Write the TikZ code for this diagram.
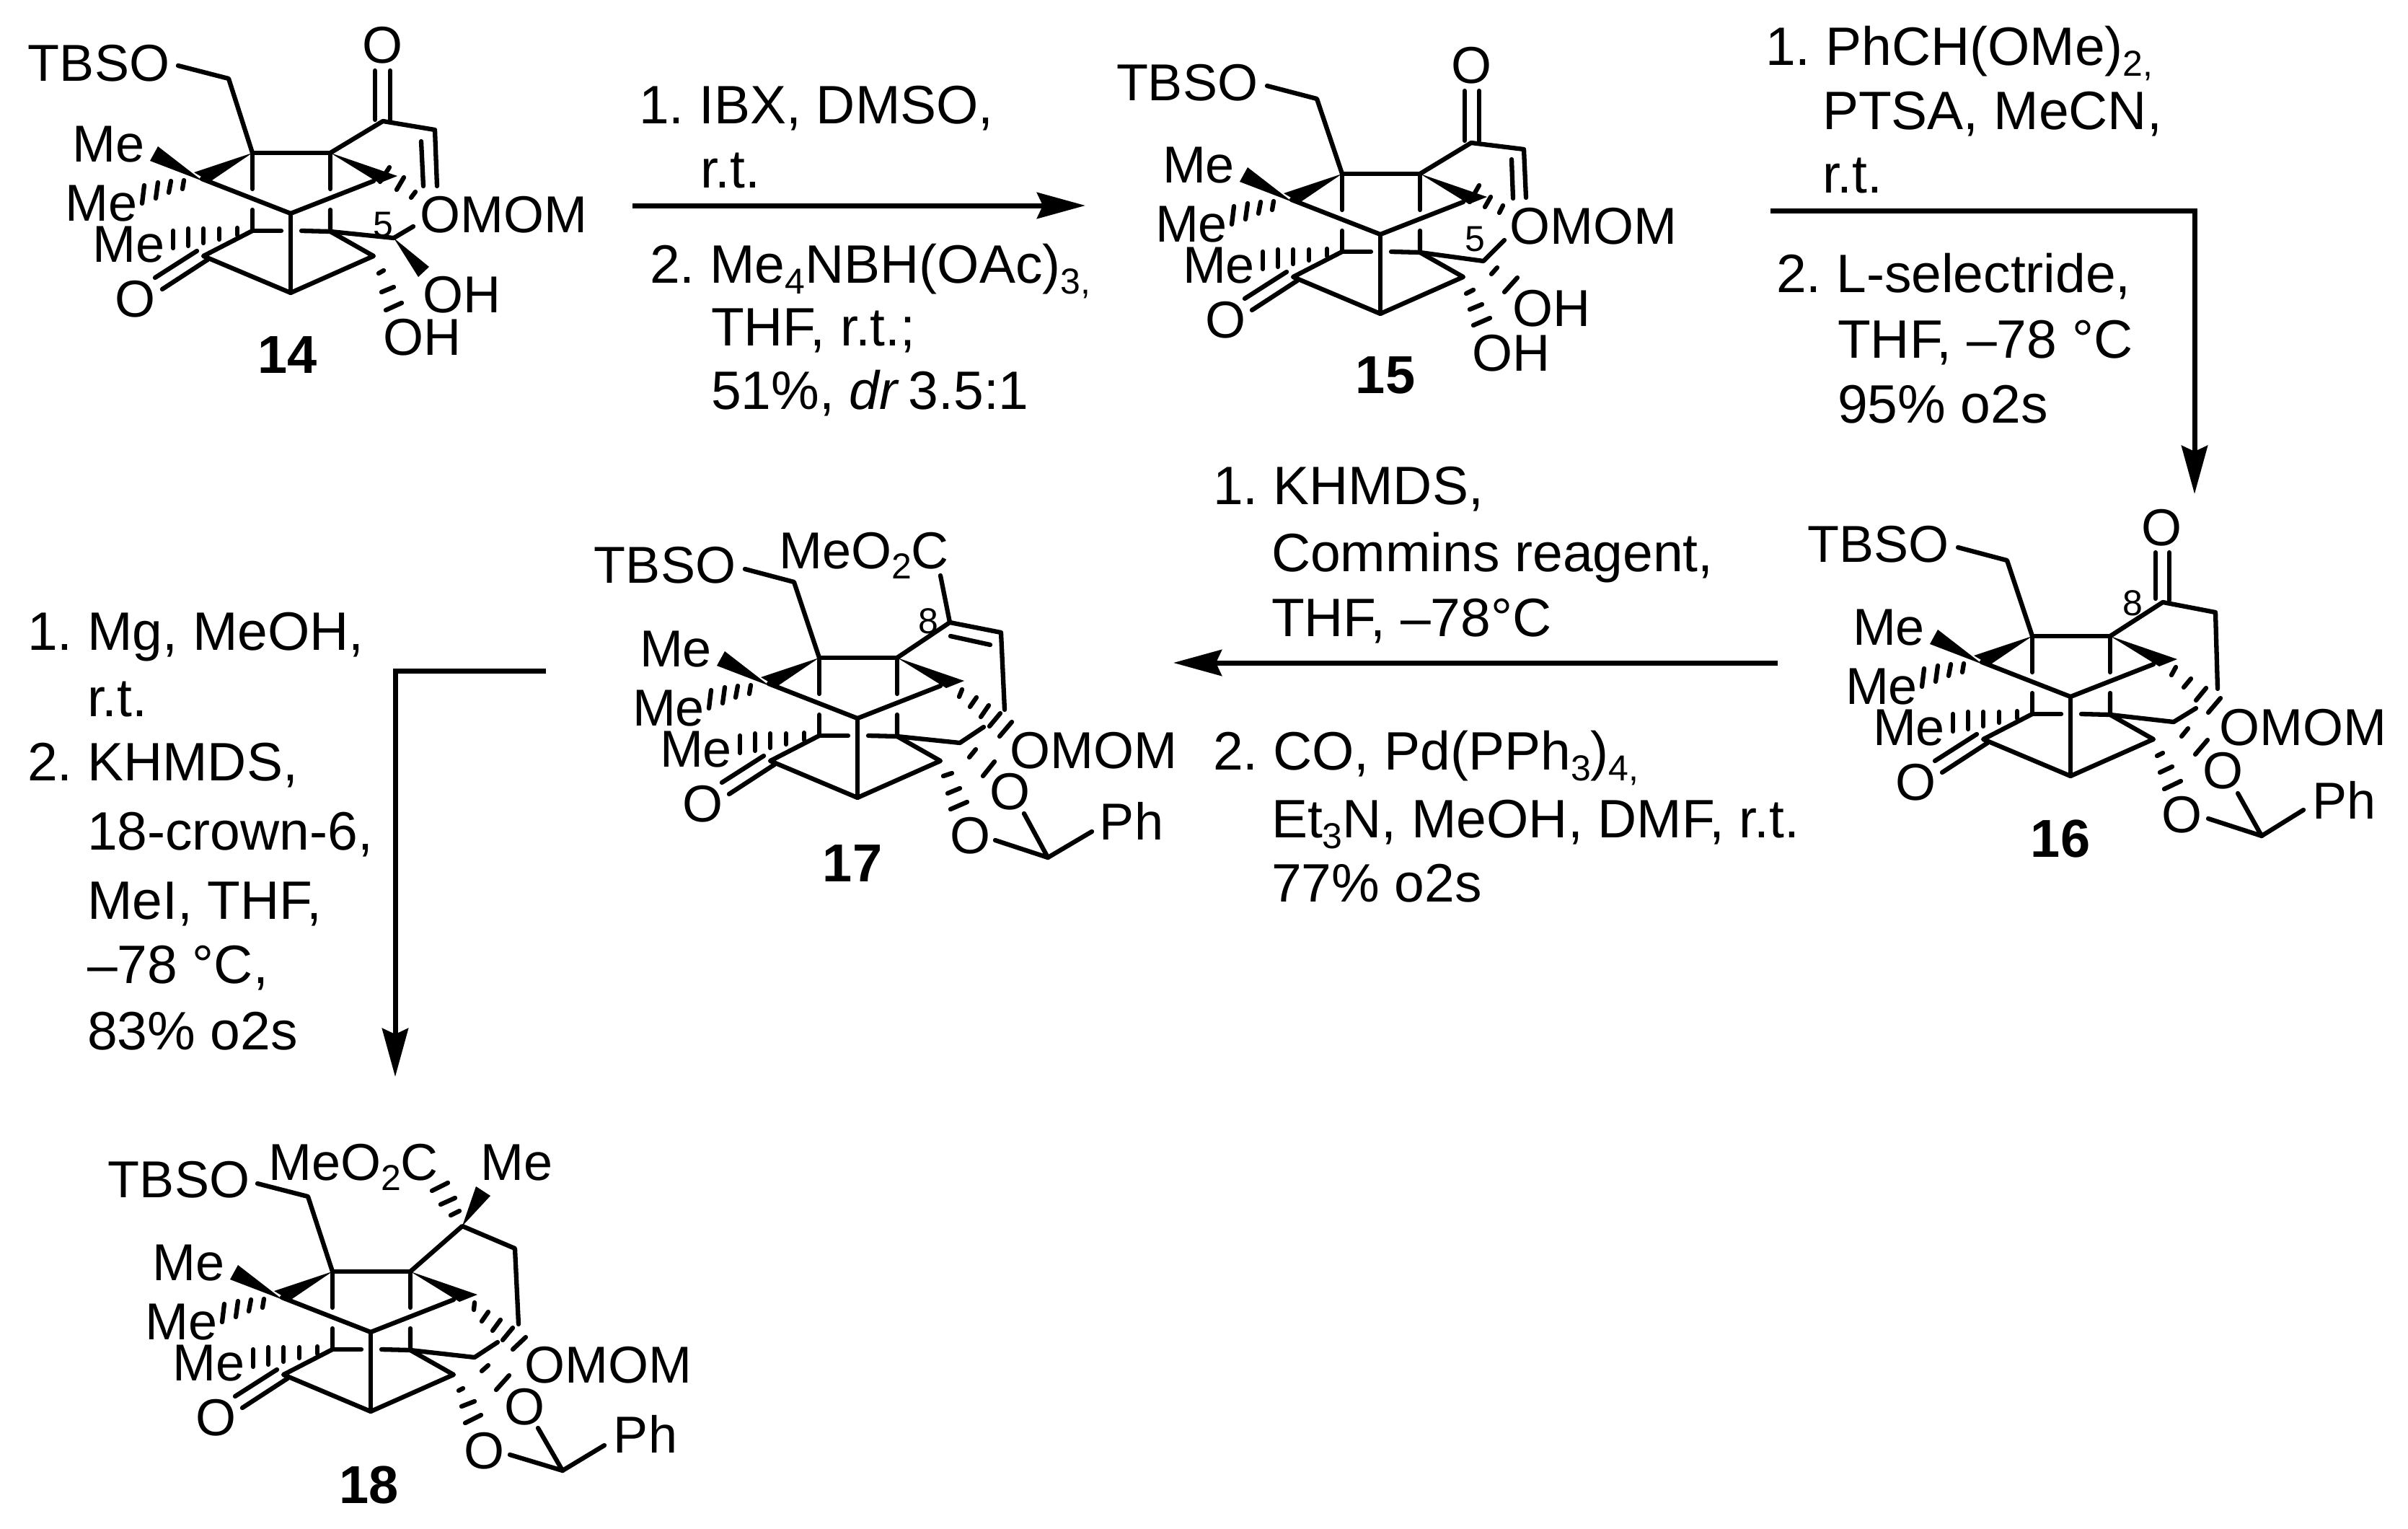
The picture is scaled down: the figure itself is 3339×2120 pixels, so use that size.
\documentclass[tikz,border=0pt]{standalone}
\usepackage{fontspec}
\setmainfont{Liberation Sans}
\usetikzlibrary{arrows.meta}
\tikzset{
  bond/.style={line width=6.3pt,line cap=round,line join=round,black},
  arrowline/.style={line width=7pt,-{Stealth[length=67pt,width=36pt,inset=8pt]},black},
  lab/.style={inner sep=0pt,outer sep=0pt,font=\fontsize{72}{72}\selectfont,anchor=base},
  txt/.style={inner sep=0pt,outer sep=0pt,font=\fontsize{75}{75}\selectfont,anchor=base west},
  cpd/.style={inner sep=0pt,outer sep=0pt,font=\fontsize{74}{74}\selectfont\bfseries,anchor=base},
  num/.style={inner sep=0pt,outer sep=0pt,font=\fontsize{50}{50}\selectfont,anchor=base},
}
\newcommand{\sbs}[1]{\raisebox{-0.2em}{\fontsize{50}{50}\selectfont #1}}
\newcommand{\stp}{\ }
\newcommand{\Lab}[4]{\node[lab] (#1) at (#2,{#3+26}) {#4};}
\newcommand{\Txt}[4]{\node[txt] (#1) at (#2,{#3+26}) {#4};}
\newcommand{\Cpd}[4]{\node[cpd] (#1) at (#2,{#3+26}) {#4};}
\newcommand{\Num}[4]{\node[num] (#1) at (#2,{#3+18}) {#4};}
\newcommand{\Bonds}[1]{\foreach \a/\b/\c/\d in {#1} \draw[bond] (\a,\b)--(\c,\d);}
\newcommand{\Core}[3]{%
\begin{scope}[shift={(#2,#3)}]
  \coordinate (#1A) at (-53,-84); \coordinate (#1B) at (55,-84);
  \coordinate (#1C) at (-123,-48); \coordinate (#1D) at (0,0);
  \coordinate (#1E) at (115,-45); \coordinate (#1F) at (-53,24);
  \coordinate (#1G) at (55,25); \coordinate (#1H) at (0,110);
  \coordinate (#1I) at (-121,59); \coordinate (#1J) at (115,59);
  \draw[bond] (#1A)--(#1B);
  \draw[bond] (#1A)--(-53,-34); \draw[bond] (-53,-5)--(#1F)--(-13,24);
  \draw[bond] (#1B)--(55,-34); \draw[bond] (55,-5)--(#1G)--(15,24);
  \draw[bond] (#1C)--(#1D)--(#1E);
  \draw[bond] (#1D)--(#1H);
  \draw[bond] (#1F)--(#1I)--(#1H)--(#1J)--(#1G);
  \draw[bond] (-130,52)--(-188,89); \draw[bond] (-115,64)--(-178,105);
  \fill (#1A)--(-134,-57)--(-112,-44)--cycle;
  \fill (-122,-45)--(-184,-93)--(-195,-73)--cycle;
  \fill (#1B)--(148,-52)--(123,-42)--cycle;
  \Bonds{-74/20/-74/30,-99/21/-99/36,-121/21/-121/41,-142/21/-142/45,-163/24/-163/48,
         -148/-46/-150/-34,-166/-45/-169/-29,-184/-43/-187/-21,-203/-39/-206/-14}
  \Lab{#1m1}{-252}{-98}{Me}
  \Lab{#1m2}{-262}{-16}{Me}
  \Lab{#1m3}{-224}{41}{Me}
  \Lab{#1o}{-215}{117}{O}
\end{scope}}
\begin{document}
\begin{tikzpicture}[x=1pt,y=-1pt]
\useasboundingbox[fill=white] (0,0) rectangle (3339,2120);
% ---- 14
\Core{a}{403}{296}
\Lab{aT}{137}{86}{TBSO}
\draw[bond] (247,91)--(317,109)--(aA);
\draw[bond] (aB)--(531,168)--(603,180)--(606,258);
\Bonds{520/98/520/166,541/98/541/168,584/196/587/258,
 540/232/527/252,560/246/550/263,576/266/570/274,
 525/379/532/375,529/405/546/398,535/430/557/420}
\draw[bond] (aG)--(546,330)--(573,314);
\fill (546,330)--(595,370)--(580,384)--cycle;
\Lab{aO}{530}{61}{O}
\Lab{aM}{698}{296}{OMOM}
\Num{a5}{531}{310}{5}
\Lab{aH1}{640}{407}{OH}
\Lab{aH2}{585}{466}{OH}
\Cpd{a14}{399}{491}{14}
% ---- 15
\Core{b}{1914}{325}
\Lab{bT}{1646}{113}{TBSO}
\draw[bond] (1757,119)--(1826,137)--(bA);
\draw[bond] (bB)--(2040,198)--(2113,207)--(2116,274);
\Bonds{2031/126/2031/195,2051/126/2051/195,2096/221/2098/275,
 2051/257/2038/280,2067/273/2059/287,2084/285/2079/295,
 2076/371/2068/380,2104/385/2086/405,
 2033/407/2043/402,2038/429/2055/422,2043/451/2066/441}
\draw[bond] (bG)--(2057,362)--(2086,333);
\Lab{bO}{2040}{89}{O}
\Lab{bM}{2209}{312}{OMOM}
\Num{b5}{2045}{330}{5}
\Lab{bH1}{2151}{426}{OH}
\Lab{bH2}{2095}{488}{OH}
\Cpd{b15}{1921}{519}{15}
% ---- 16
\Core{c}{2871}{966}
\Lab{cT}{2604}{753}{TBSO}
\draw[bond] (2715,759)--(2783,777)--(cA);
\draw[bond] (cB)--(2999,835)--(3072,849)--(3075,955);
\Bonds{2989/766/2989/830,3008/766/3008/832,
 3017/925/3011/936,3038/941/3028/953,3059/954/3045/971,3079/968/3062/988,
 3034/1010/3025/1021,3061/1026/3044/1046,
 2991/1048/2999/1044,2995/1071/3012/1063,3001/1094/3024/1083}
\draw[bond] (cG)--(3014,1001)--(3045,982);
\draw[bond] (3103,1100)--(3136,1159)--(3062,1135);
\draw[bond] (3136,1159)--(3194,1123);
\Lab{cO}{2997}{730}{O}
\Num{c8}{2957}{835}{8}
\Lab{cM}{3193}{1007}{OMOM}
\Lab{cO1}{3082}{1067}{O}
\Lab{cO2}{3025}{1128}{O}
\Lab{cP}{3250}{1109}{Ph}
\Cpd{c16}{2857}{1162}{16}
% ---- 17
\Core{d}{1189}{996}
\Lab{dT}{922}{782}{TBSO}
\draw[bond] (1033,789)--(1101,807)--(dA);
\draw[bond] (dB)--(1317,863)--(1388,877)--(1393,984);
\Bonds{1317/863/1304/798,1318/882/1373/894,
 1334/956/1330/966,1354/967/1345/980,1371/978/1360/994,1387/989/1372/1007,1403/1001/1386/1021,
 1353/1039/1344/1050,1379/1056/1363/1076,
 1308/1076/1320/1072,1314/1100/1331/1093,1318/1122/1341/1112}
\draw[bond] (dG)--(1331,1030)--(1364,1008);
\draw[bond] (1420,1128)--(1453,1189)--(1380,1165);
\draw[bond] (1453,1189)--(1514,1153);
\Lab{dE}{1198}{762}{MeO\sbs{2}C}
\Num{d8}{1287}{860}{8}
\Lab{dM}{1516}{1039}{OMOM}
\Lab{dO1}{1400}{1096}{O}
\Lab{dO2}{1345}{1157}{O}
\Lab{dP}{1569}{1138}{Ph}
\Cpd{d17}{1182}{1196}{17}
% ---- 18
\Core{e}{514}{1847}
\Lab{eT}{248}{1634}{TBSO}
\draw[bond] (357,1641)--(427,1659)--(eA);
\draw[bond] (eB)--(641,1700)--(714,1731)--(719,1836);
\fill (641,1700)--(660,1645)--(680,1658)--cycle;
\Bonds{637/1679/625/1685,631/1661/611/1670,621/1640/599/1651,
 658/1806/657/1816,677/1819/668/1832,694/1830/683/1845,711/1841/697/1858,729/1854/711/1871,
 677/1893/668/1901,706/1907/688/1927,
 636/1928/642/1925,640/1950/658/1943,645/1973/667/1962}
\draw[bond] (eG)--(658,1882)--(690,1861);
\draw[bond] (746,1980)--(780,2039)--(707,2017);
\draw[bond] (780,2039)--(838,2004);
\Lab{eE}{490}{1610}{MeO\sbs{2}C}
\Lab{eMe}{717}{1610}{Me}
\Lab{eM}{843}{1891}{OMOM}
\Lab{eO1}{727}{1949}{O}
\Lab{eO2}{671}{2010}{O}
\Lab{eP}{895}{1988}{Ph}
\Cpd{e18}{512}{2058}{18}
% ---- arrows
\coordinate (r1s) at (877,285); \coordinate (r1e) at (1505,285);
\draw[arrowline] (r1s)--(r1e);
\coordinate (r2s) at (2455,292); \coordinate (r2m) at (3043,292); \coordinate (r2e) at (3043,685);
\draw[arrowline] (r2s)--(r2m)--(r2e);
\coordinate (r3s) at (2465,919); \coordinate (r3e) at (1627,919);
\draw[arrowline] (r3s)--(r3e);
\coordinate (r4s) at (757,930); \coordinate (r4m) at (548,930); \coordinate (r4e) at (548,1493);
\draw[arrowline] (r4s)--(r4m)--(r4e);
% ---- conditions 1
\Txt{t11}{886}{145}{1.\stp IBX, DMSO,}
\Txt{t12}{971}{234}{r.t.}
\Txt{t13}{901}{366}{2.\stp Me\sbs{4}NBH(OAc)\sbs{3,}}
\Txt{t14}{986}{453}{THF, r.t.;}
\Txt{t15}{986}{541}{51\%, \textit{dr}\kern-8pt\ 3.5:1}
% ---- conditions 2
\Txt{t21}{2448}{64}{1.\stp PhCH(OMe)\sbs{2,}}
\Txt{t22}{2527}{153}{PTSA, MeCN,}
\Txt{t23}{2527}{241}{r.t.}
\Txt{t24}{2463}{379}{2.\stp L-selectride,}
\Txt{t25}{2548}{470}{THF, –78 °C}
\Txt{t26}{2548}{560}{95\% o2s}
% ---- conditions 3
\Txt{t31}{1682}{673}{1.\stp KHMDS,}
\Txt{t32}{1763}{766}{Commins reagent,}
\Txt{t33}{1763}{856}{THF, –78°C}
\Txt{t34}{1682}{1041}{2.\stp CO, Pd(PPh\sbs{3})\sbs{4,}}
\Txt{t35}{1763}{1135}{Et\sbs{3}N, MeOH, DMF, r.t.}
\Txt{t36}{1763}{1224}{77\% o2s}
% ---- conditions 4
\Txt{t41}{38}{875}{1.\stp Mg, MeOH,}
\Txt{t42}{121}{967}{r.t.}
\Txt{t43}{38}{1056}{2.\stp KHMDS,}
\Txt{t44}{121}{1152}{18-crown-6,}
\Txt{t45}{121}{1248}{MeI, THF,}
\Txt{t46}{121}{1337}{–78 °C,}
\Txt{t47}{121}{1429}{83\% o2s}
\end{tikzpicture}
\end{document}
